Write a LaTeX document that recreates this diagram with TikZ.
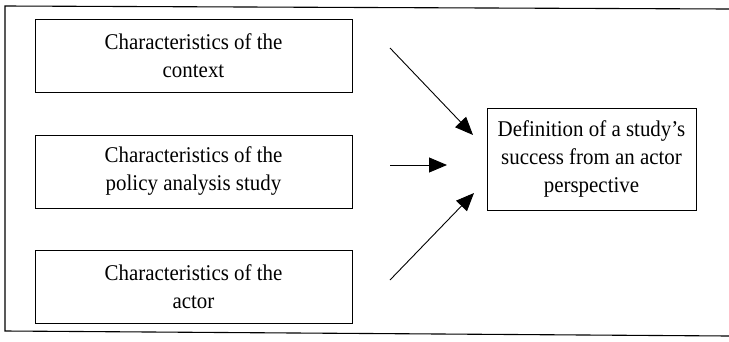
\documentclass[tikz,border=0pt]{standalone}
\usepackage{fontspec}
\setmainfont{Liberation Serif}[FakeStretch=0.93]
\usetikzlibrary{arrows.meta}
\begin{document}
\begin{tikzpicture}[x=1pt,y=-1pt,
  box/.style={draw,line width=1pt,inner sep=0pt,align=center,
    font=\fontsize{22.5}{28}\selectfont},
  link/.style={line width=0.9pt,-{Triangle[length=18pt,width=15pt]}}]
\useasboundingbox (0,0) rectangle (729,341);
% open frame round the whole figure (no right side)
\draw[line width=1.1pt] (729,9) -- (5,6) -- (5,331) -- (729,336);
% the three factor boxes
\node[box,minimum width=317pt,minimum height=73pt] (ctx) at (193.5,55.5)
  {Characteristics of the\\context};
\node[box,minimum width=317pt,minimum height=73pt] (pas) at (193.5,171.5)
  {Characteristics of the\\policy analysis study};
\node[box,minimum width=317pt,minimum height=73pt] (act) at (193.5,287)
  {Characteristics of the\\actor};
% the outcome box
\node[box,minimum width=209pt,minimum height=102pt] (def) at (591.5,159)
  {Definition of a study's\\success from an actor\\perspective};
% arrows between the columns
\coordinate (a1) at (390,48);  \coordinate (t1) at (473,135);
\coordinate (a2) at (390,165); \coordinate (t2) at (447,165);
\coordinate (a3) at (390,280); \coordinate (t3) at (474,193);
\draw[link] (a1) -- (t1);
\draw[link] (a2) -- (t2);
\draw[link] (a3) -- (t3);
\end{tikzpicture}
\end{document}
